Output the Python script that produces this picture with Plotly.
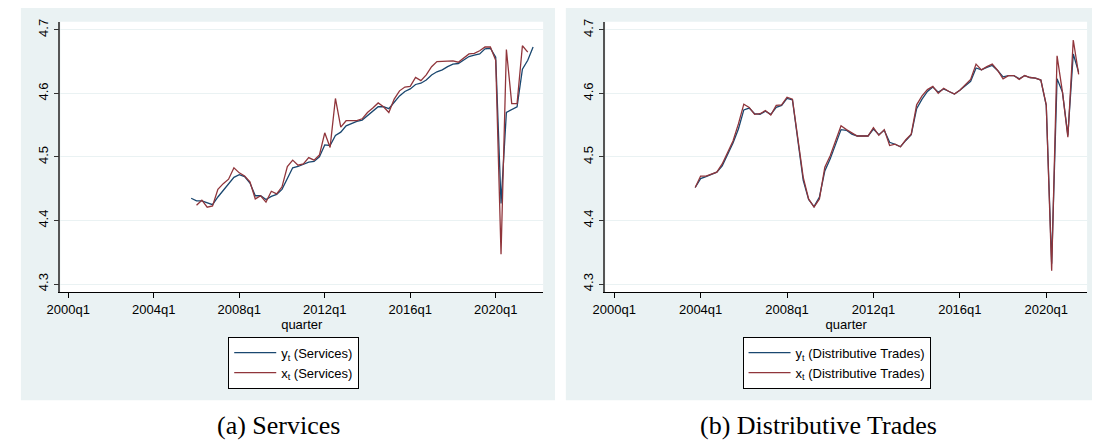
import plotly.graph_objects as go

# ---------------- data ----------------
serv_y_start = "2005q4"
serv_y = [4.435, 4.431, 4.431, 4.428, 4.425, 4.437, 4.447, 4.458, 4.468, 4.472,
          4.469, 4.459, 4.439, 4.439, 4.433, 4.438, 4.441, 4.449, 4.466, 4.483,
          4.485, 4.488, 4.492, 4.493, 4.500, 4.519, 4.518, 4.534, 4.539, 4.549,
          4.553, 4.556, 4.558, 4.565, 4.572, 4.579, 4.579, 4.576, 4.586, 4.596,
          4.603, 4.607, 4.614, 4.616, 4.621, 4.629, 4.634, 4.637, 4.642, 4.646,
          4.647, 4.653, 4.658, 4.660, 4.662, 4.670, 4.671, 4.657, 4.427, 4.570,
          4.574, 4.579, 4.638, 4.652, 4.673]
serv_x_start = "2006q1"
serv_x = [4.424, 4.432, 4.421, 4.423, 4.449, 4.458, 4.465, 4.483, 4.475,
          4.470, 4.461, 4.434, 4.439, 4.429, 4.446, 4.442, 4.453, 4.485, 4.495,
          4.487, 4.489, 4.499, 4.495, 4.503, 4.538, 4.515, 4.592, 4.547, 4.557,
          4.557, 4.557, 4.560, 4.570, 4.577, 4.585, 4.579, 4.570, 4.591, 4.604,
          4.610, 4.611, 4.625, 4.620, 4.629, 4.642, 4.650, 4.650, 4.650, 4.651,
          4.649, 4.656, 4.662, 4.663, 4.667, 4.673, 4.673, 4.652, 4.347, 4.669,
          4.584, 4.584, 4.675, 4.665]

dist_start = "2003q4"
dist_y = [4.452, 4.466, 4.469, 4.473, 4.476, 4.486, 4.504, 4.522, 4.544, 4.574,
          4.577, 4.568, 4.567, 4.572, 4.567, 4.578, 4.581, 4.592, 4.590, 4.526,
          4.463, 4.433, 4.422, 4.437, 4.478, 4.497, 4.521, 4.543, 4.542, 4.536,
          4.533, 4.533, 4.533, 4.544, 4.535, 4.542, 4.523, 4.520, 4.516, 4.526,
          4.535, 4.576, 4.591, 4.603, 4.610, 4.602, 4.607, 4.603, 4.599, 4.605,
          4.612, 4.619, 4.640, 4.637, 4.641, 4.644, 4.636, 4.626, 4.628, 4.628,
          4.623, 4.628, 4.625, 4.624, 4.621, 4.581, 4.332, 4.623, 4.602, 4.534,
          4.662, 4.633]
dist_x = [4.452, 4.470, 4.470, 4.473, 4.476, 4.489, 4.508, 4.525, 4.552, 4.583,
          4.578, 4.567, 4.568, 4.573, 4.566, 4.581, 4.582, 4.594, 4.591, 4.531,
          4.468, 4.434, 4.421, 4.434, 4.484, 4.502, 4.526, 4.549, 4.543, 4.538,
          4.533, 4.533, 4.533, 4.546, 4.534, 4.543, 4.518, 4.520, 4.516, 4.527,
          4.536, 4.582, 4.596, 4.606, 4.611, 4.600, 4.608, 4.603, 4.599, 4.605,
          4.613, 4.622, 4.646, 4.637, 4.642, 4.646, 4.636, 4.623, 4.628, 4.628,
          4.622, 4.628, 4.625, 4.624, 4.621, 4.582, 4.321, 4.659, 4.602, 4.531,
          4.684, 4.630]

x_tick_labels = ["2000q1", "2004q1", "2008q1", "2012q1", "2016q1", "2020q1"]
y_ticks = [4.3, 4.4, 4.5, 4.6, 4.7]
captions = ["(a) Services", "(b) Distributive Trades"]


def qnum(label):
    yr, q = label.split("q")
    return int(yr) + (int(q) - 1) / 4.0


def qseries(start, n):
    s = qnum(start)
    return [s + i / 4.0 for i in range(n)]


BLUE = "#1a476f"
RED = "#90353b"
PANEL = "#eaf2f3"
W, H = 1094, 446

fig = go.Figure()

fig.add_trace(go.Scatter(x=qseries(serv_y_start, len(serv_y)), y=serv_y, mode="lines",
                         line=dict(color=BLUE, width=1.3), name="y<sub>t</sub> (Services)",
                         xaxis="x", yaxis="y", legend="legend"))
fig.add_trace(go.Scatter(x=qseries(serv_x_start, len(serv_x)), y=serv_x, mode="lines",
                         line=dict(color=RED, width=1.3), name="x<sub>t</sub> (Services)",
                         xaxis="x", yaxis="y", legend="legend"))
fig.add_trace(go.Scatter(x=qseries(dist_start, len(dist_y)), y=dist_y, mode="lines",
                         line=dict(color=BLUE, width=1.3), name="y<sub>t</sub> (Distributive Trades)",
                         xaxis="x2", yaxis="y2", legend="legend2"))
fig.add_trace(go.Scatter(x=qseries(dist_start, len(dist_x)), y=dist_x, mode="lines",
                         line=dict(color=RED, width=1.3), name="x<sub>t</sub> (Distributive Trades)",
                         xaxis="x2", yaxis="y2", legend="legend2"))

font = dict(family="Liberation Sans, Arial, sans-serif", size=13, color="#000")

ydom = [(446 - 291) / H, (446 - 19) / H]
common_x = dict(tickvals=[qnum(t) for t in x_tick_labels], ticktext=x_tick_labels,
                ticks="outside", ticklen=5, tickcolor="#000", tickwidth=1,
                showline=True, linecolor="#000", linewidth=1.3, showgrid=False,
                zeroline=False, tickfont=font,
                title=dict(text="quarter", font=font, standoff=0))
common_y = dict(tickvals=y_ticks, ticktext=[f"{v:.1f}" for v in y_ticks],
                range=[4.2875, 4.7125], ticks="outside", ticklen=5, tickcolor="#333",
                tickwidth=1, showline=True, linecolor="#555", linewidth=1.5,
                showgrid=True, gridcolor=PANEL, gridwidth=1, zeroline=False,
                tickangle=-90, tickfont=font)

fig.update_layout(
    width=W, height=H, margin=dict(l=0, r=0, t=0, b=0),
    paper_bgcolor="white", plot_bgcolor="white",
    xaxis=dict(domain=[47 / W, 536 / W], range=[1999.63, 2022.22], anchor="y", **common_x),
    yaxis=dict(domain=ydom, anchor="x", **common_y),
    xaxis2=dict(domain=[599 / W, 1087 / W], range=[1999.59, 2021.89], anchor="y2", **common_x),
    yaxis2=dict(domain=ydom, anchor="x2", **common_y),
    legend=dict(x=217 / W, y=(446 - 336) / H, xanchor="left", yanchor="top",
                bgcolor="white", bordercolor="#000", borderwidth=1, font=font,
                tracegroupgap=0, itemwidth=42),
    legend2=dict(x=738 / W, y=(446 - 336) / H, xanchor="left", yanchor="top",
                 bgcolor="white", bordercolor="#000", borderwidth=1, font=font,
                 tracegroupgap=0, itemwidth=42),
    showlegend=True,
    hovermode=False,
)

shapes = [
    dict(type="rect", xref="paper", yref="paper", x0=7 / W, x1=548 / W,
         y0=(446 - 400) / H, y1=(446 - 5) / H, fillcolor=PANEL, line=dict(width=0), layer="below"),
    dict(type="rect", xref="paper", yref="paper", x0=559 / W, x1=1092 / W,
         y0=(446 - 400) / H, y1=(446 - 5) / H, fillcolor=PANEL, line=dict(width=0), layer="below"),
    dict(type="rect", xref="x domain", yref="y domain", x0=0, x1=1, y0=0, y1=1,
         fillcolor="white", line=dict(width=0), layer="below"),
    dict(type="rect", xref="x2 domain", yref="y2 domain", x0=0, x1=1, y0=0, y1=1,
         fillcolor="white", line=dict(width=0), layer="below"),
]
fig.update_layout(shapes=shapes)

cap_font = dict(family="Liberation Serif, DejaVu Serif, serif", size=26, color="#000")
fig.add_annotation(text=captions[0], x=268 / W, y=(446 - 425) / H, xref="paper", yref="paper",
                   showarrow=False, font=cap_font, xanchor="center", yanchor="middle")
fig.add_annotation(text=captions[1], x=815 / W, y=(446 - 425) / H, xref="paper", yref="paper",
                   showarrow=False, font=cap_font, xanchor="center", yanchor="middle")

fig.write_html("out.html", config={"displayModeBar": False},
               post_script="document.body.style.margin='0';document.body.style.overflow='hidden';")
